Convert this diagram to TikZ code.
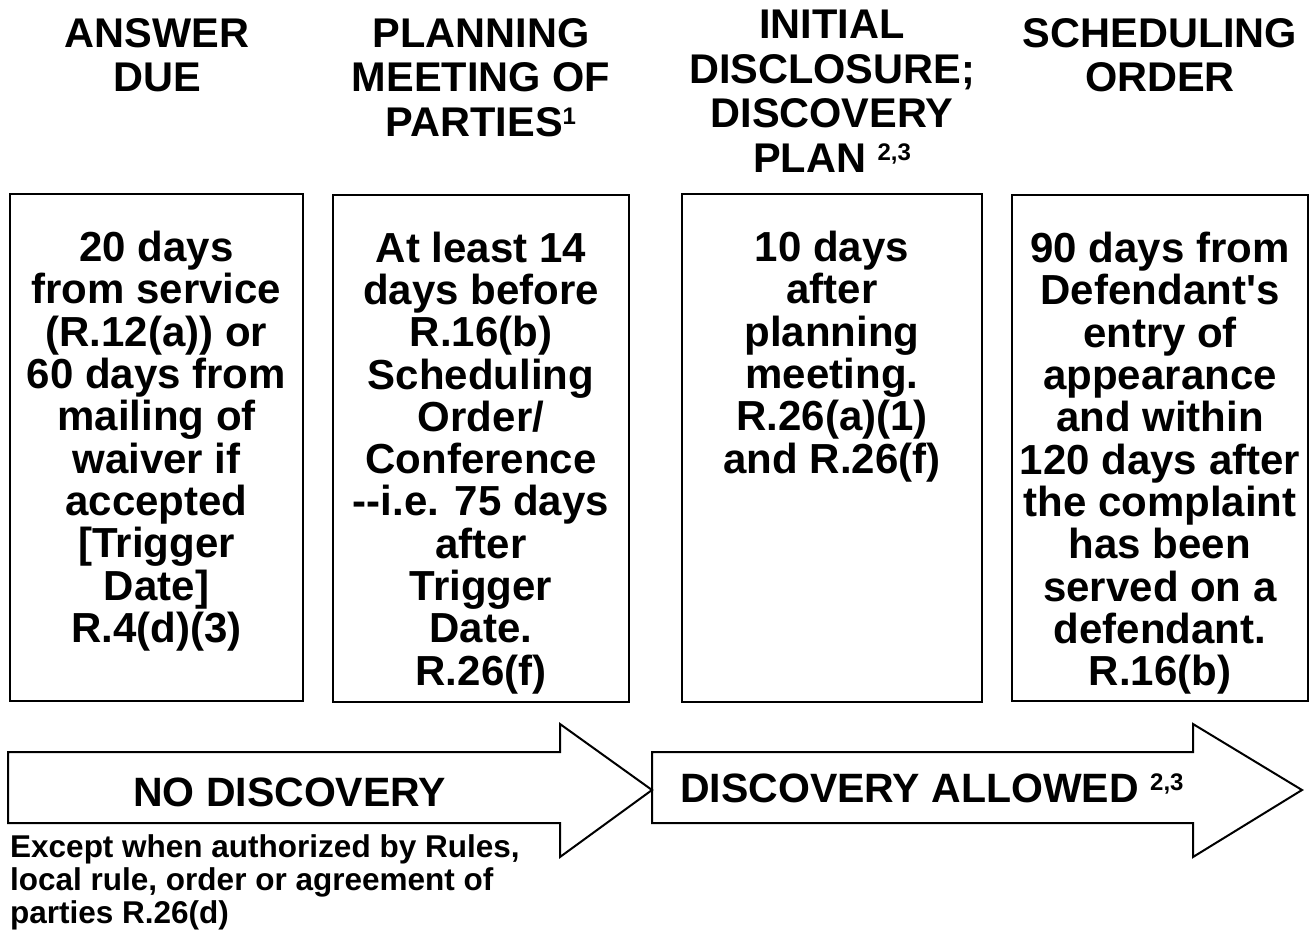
\documentclass[tikz,border=0pt]{standalone}
\usepackage{fontspec}
\setmainfont{Liberation Sans}
\newcommand\supnum[2][12pt]{\raisebox{#1}{\fontsize{24pt}{24pt}\selectfont #2}}
\begin{document}
\begin{tikzpicture}[x=1pt,y=-1pt,
  hdr/.style={font=\fontsize{41.5pt}{44.5pt}\selectfont\bfseries, align=center, inner sep=0pt, anchor=north},
  boxtxt/.style={font=\fontsize{42pt}{42.3pt}\selectfont\bfseries, align=center, inner sep=0pt, anchor=north},
  tbox/.style={draw, line width=2pt, inner sep=0pt},
  arr/.style={draw, line width=2pt, line join=miter},
  arrtxt/.style={font=\fontsize{41pt}{44pt}\selectfont\bfseries, inner sep=0pt, anchor=base west},
  note/.style={font=\fontsize{31.5pt}{33pt}\selectfont\bfseries, align=left, inner sep=0pt, anchor=north west}]
\useasboundingbox (0,0) rectangle (1309,934);
\fill[white] (0,0) rectangle (1309,934);

% headers
\node[hdr] (hA) at (157,18) {ANSWER\\DUE};
\node[hdr] (hB) at (481,18) {PLANNING\\MEETING OF\\PARTIES\supnum{1}};
\node[hdr] (hC) at (832,10) {INITIAL\\DISCLOSURE;\\DISCOVERY\\PLAN \supnum{2,3}};
\node[hdr] (hD) at (1160,18) {SCHEDULING\\ORDER};

% boxes
\node[tbox, minimum width=293pt, minimum height=507pt] (b1) at (156.5,447.5) {};
\node[tbox, minimum width=296pt, minimum height=507pt] (b2) at (481,448) {};
\node[tbox, minimum width=300pt, minimum height=508pt] (b3) at (832,448) {};
\node[tbox, minimum width=296pt, minimum height=506pt] (b4) at (1160,448) {};

\node[boxtxt] (t1) at ([yshift=-38pt]b1.north) {20 days\\from service\\(R.12(a)) or\\60 days from\\mailing of\\waiver if\\accepted\\{[}Trigger\\Date{]}\\R.4(d)(3)};
\node[boxtxt] (t2) at ([yshift=-38pt]b2.north) {At least 14\\days before\\R.16(b)\\Scheduling\\Order/\\Conference\\-{}-i.e. 75 days\\after\\Trigger\\Date.\\R.26(f)};
\node[boxtxt] (t3) at ([yshift=-38pt]b3.north) {10 days\\after\\planning\\meeting.\\R.26(a)(1)\\and R.26(f)};
\node[boxtxt] (t4) at ([yshift=-38pt]b4.north) {90 days from\\Defendant\textquotesingle s\\entry of\\appearance\\and within\\120 days after\\the complaint\\has been\\served on a\\defendant.\\R.16(b)};

% arrows
\draw[arr] (8,752) -- (560,752) -- (560,724) -- (652,790) -- (560,857) -- (560,823) -- (8,823) -- cycle;
\draw[arr] (652,752) -- (1193,752) -- (1193,724) -- (1302,790) -- (1193,857) -- (1193,823) -- (652,823) -- cycle;

\node[arrtxt] (n1) at (133,806) {NO DISCOVERY};
\node[arrtxt] (n2) at (680,802) {DISCOVERY ALLOWED \supnum{2,3}};

\node[note] (n3) at (10,834) {Except when authorized by Rules,\\local rule, order or agreement of\\parties R.26(d)};
\end{tikzpicture}
\end{document}
